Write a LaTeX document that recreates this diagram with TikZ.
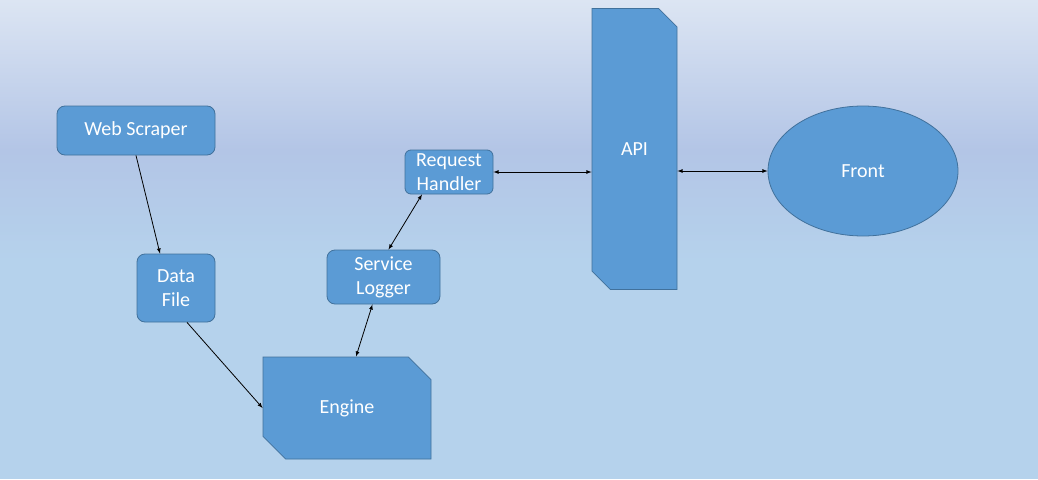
\documentclass[tikz,border=0pt]{standalone}
\usepackage{fontspec}
\setmainfont{Carlito}
\usetikzlibrary{shapes.misc,shapes.geometric}
\definecolor{boxfill}{RGB}{91,155,213}
\definecolor{boxline}{RGB}{65,113,156}
\definecolor{bgtop}{RGB}{220,229,243}
\definecolor{bgmid}{RGB}{179,197,230}
\definecolor{bglow}{RGB}{181,210,236}
\tikzset{
  box/.style={draw=boxline,fill=boxfill,line width=0.8pt,text=white,align=center,
    font=\fontsize{20}{24}\selectfont,inner sep=2pt},
  roundbox/.style={box,rounded corners=8pt},
  cutbox/.style={box,chamfered rectangle,chamfered rectangle corners={north east,south west},
    chamfered rectangle angle=45},
  link/.style={line width=0.8pt,latex-latex},
  feed/.style={line width=0.8pt,-latex}
}
\begin{document}
\begin{tikzpicture}[x=1pt,y=-1pt]
  \useasboundingbox (0,0) rectangle (1038,479);
  \shade[top color=bgtop,bottom color=bgmid] (0,0) rectangle (1038,150);
  \shade[top color=bgmid,bottom color=bglow] (0,150) rectangle (1038,262);
  \fill[bglow] (0,262) rectangle (1038,479);

  \node[roundbox,minimum width=158pt,minimum height=49pt] (ws) at (136,130.5) {Web Scraper};
  \node[roundbox,minimum width=78pt,minimum height=68pt] (df) at (176,288) {Data\\File};
  \node[roundbox,minimum width=113pt,minimum height=54pt] (sl) at (383.5,277) {Service\\Logger};
  \node[roundbox,minimum width=88pt,minimum height=44pt,rounded corners=6pt] (rh) at (449,172) {Request\\Handler};
  \node[cutbox,minimum width=168pt,minimum height=102pt,chamfered rectangle sep=12pt] (en) at (347,408) {Engine};
  \node[cutbox,minimum width=85pt,minimum height=281pt,chamfered rectangle sep=10pt] (api) at (634.5,149) {API};
  \node[box,ellipse,minimum width=190pt,minimum height=130pt] (fr) at (863,171) {Front};

  \draw[feed] (ws.south) -- ([xshift=-16pt]df.north);
  \draw[feed] ([xshift=11pt]df.south) -- (en.west);
  \draw[link] ([xshift=-11pt]sl.south) -- ([xshift=9pt]en.north);
  \draw[link] ([xshift=-27pt]rh.south) -- ([xshift=5pt]sl.north);
  \draw[link] (rh.east) -- (rh.east -| api.west);
  \draw[link] (api.east |- fr.west) -- (fr.west);
\end{tikzpicture}
\end{document}
